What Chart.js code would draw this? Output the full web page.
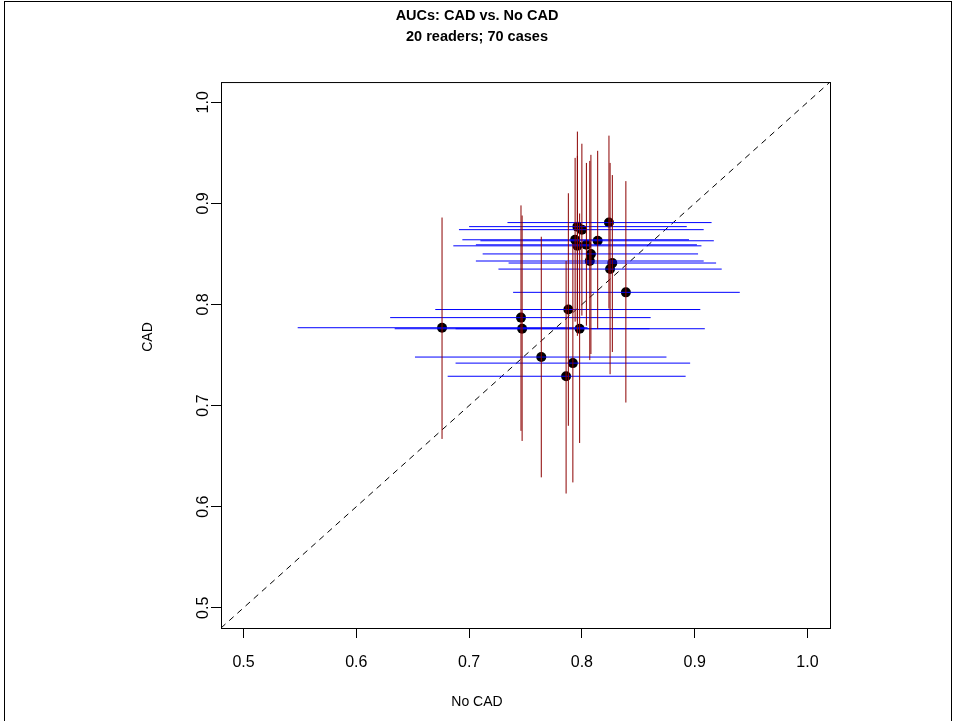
<!DOCTYPE html>
<html>
<head>
<meta charset="utf-8">
<title>AUCs: CAD vs. No CAD</title>
<script src="https://cdn.jsdelivr.net/npm/chart.js@4/dist/chart.umd.min.js"></script>
<style>
  html, body { margin: 0; padding: 0; background: #fff; }
  #wrap { width: 954px; height: 721px; }
</style>
</head>
<body>
<div id="wrap"><canvas id="aucChart" width="954" height="721"></canvas></div>
<script>
// AUC per reader, without CAD (x) and with CAD (y)
const aucNoCad = [0.824, 0.796, 0.800, 0.794, 0.814, 0.804, 0.796, 0.808, 0.807, 0.827,
                  0.825, 0.839, 0.788, 0.746, 0.676, 0.747, 0.798, 0.764, 0.792, 0.786];
const aucCad   = [0.881, 0.877, 0.874, 0.864, 0.863, 0.859, 0.858, 0.850, 0.843, 0.841,
                  0.835, 0.812, 0.795, 0.787, 0.777, 0.776, 0.776, 0.748, 0.742, 0.729];

// confidence intervals
const noCadLo = [0.734, 0.700, 0.691, 0.694, 0.710, 0.706, 0.686, 0.712, 0.706, 0.735,
                 0.726, 0.739, 0.670, 0.630, 0.548, 0.634, 0.688, 0.652, 0.688, 0.681];
const noCadHi = [0.915, 0.893, 0.908, 0.895, 0.917, 0.902, 0.906, 0.903, 0.908, 0.919,
                 0.924, 0.940, 0.905, 0.861, 0.805, 0.860, 0.909, 0.875, 0.896, 0.892];
const cadLo   = [0.796, 0.784, 0.789, 0.783, 0.776, 0.779, 0.769, 0.751, 0.745, 0.753,
                 0.731, 0.703, 0.680, 0.675, 0.667, 0.665, 0.663, 0.629, 0.624, 0.613];
const cadHi   = [0.967, 0.971, 0.959, 0.945, 0.952, 0.940, 0.947, 0.948, 0.942, 0.928,
                 0.940, 0.922, 0.910, 0.898, 0.886, 0.888, 0.890, 0.867, 0.860, 0.843];

// axis range and ticks
const axisMin = 0.48;
const axisMax = 1.02;
const tickLabels = ["0.5", "0.6", "0.7", "0.8", "0.9", "1.0"];
const tickVals = tickLabels.map(Number);

// build segment lists (null = break between segments)
const hSegs = [];
const vSegs = [];
aucNoCad.forEach((x, i) => {
  hSegs.push({ x: noCadLo[i], y: aucCad[i] }, { x: noCadHi[i], y: aucCad[i] }, { x: x, y: null });
  vSegs.push({ x: x, y: cadLo[i] }, { x: x, y: cadHi[i] }, { x: x, y: null });
});
const points = aucNoCad.map((x, i) => ({ x: x, y: aucCad[i] }));

const FONT = "'Liberation Sans', Arial, Helvetica, sans-serif";
Chart.defaults.color = "#000";
Chart.defaults.font.family = FONT;

// page frame, plot box and y label, R style
const frameBox = {
  id: "frameBox",
  beforeDraw(chart) {
    const ctx = chart.ctx;
    ctx.save();
    ctx.fillStyle = "#fff";
    ctx.fillRect(0, 0, chart.width, chart.height);
    ctx.strokeStyle = "#000";
    ctx.lineWidth = 1;
    ctx.strokeRect(4.5, 1.5, 947, 760);
    ctx.restore();
  },
  afterDraw(chart) {
    const { ctx, chartArea: a } = chart;
    ctx.save();
    ctx.strokeStyle = "#000";
    ctx.lineWidth = 1;
    ctx.strokeRect(a.left + 0.5, a.top + 0.5, a.right - a.left, a.bottom - a.top);
    // y axis label sits a bit above the plot middle in the original
    ctx.translate(148, 337);
    ctx.rotate(-Math.PI / 2);
    ctx.font = "14px " + FONT;
    ctx.fillStyle = "#000";
    ctx.textAlign = "center";
    ctx.textBaseline = "middle";
    ctx.fillText("CAD", 0, 0);
    ctx.restore();
  }
};

function tickCfg() {
  return {
    grid: { display: true, drawOnChartArea: false, drawTicks: true, tickLength: 10, color: "#000", lineWidth: 1 },
    border: { display: false }
  };
}

new Chart(document.getElementById("aucChart"), {
  type: "scatter",
  data: {
    datasets: [
      {
        label: "CAD CI",
        data: vSegs,
        showLine: true,
        spanGaps: false,
        borderColor: "#8b0000",
        borderWidth: 1,
        pointRadius: 0,
        order: 0
      },
      {
        label: "No CAD CI",
        data: hSegs,
        showLine: true,
        spanGaps: false,
        borderColor: "#0000ff",
        borderWidth: 1,
        pointRadius: 0,
        order: 1
      },
      {
        label: "Readers",
        data: points,
        pointRadius: 5,
        pointBackgroundColor: "#000",
        pointBorderWidth: 0,
        order: 2
      },
      {
        label: "y = x",
        data: [{ x: axisMin, y: axisMin }, { x: axisMax, y: axisMax }],
        showLine: true,
        borderColor: "#000",
        borderWidth: 1,
        borderDash: [6, 5],
        pointRadius: 0,
        order: 3
      }
    ]
  },
  options: {
    responsive: false,
    animation: false,
    devicePixelRatio: 1,
    layout: { padding: 0 },
    plugins: {
      legend: { display: false },
      tooltip: { enabled: false },
      title: {
        display: true,
        text: ["AUCs: CAD vs. No CAD", "20 readers; 70 cases"],
        font: { size: 14.5, weight: "bold", lineHeight: 1.45 },
        padding: { top: 5, bottom: 35 }
      },
      subtitle: {
        display: true,
        position: "bottom",
        text: "No CAD",
        font: { size: 14, weight: "normal", lineHeight: 1.2 },
        padding: { top: 0, bottom: 10.6 }
      }
    },
    scales: {
      x: Object.assign(tickCfg(), {
        type: "linear",
        min: axisMin,
        max: axisMax,
        afterBuildTicks: s => { s.ticks = tickVals.map(v => ({ value: v })); },
        afterFit: s => { s.height = 65.6; },
        ticks: {
          font: { size: 16 },
          padding: 15,
          callback: (v, i) => tickLabels[i]
        }
      }),
      y: Object.assign(tickCfg(), {
        type: "linear",
        min: axisMin,
        max: axisMax,
        afterBuildTicks: s => { s.ticks = tickVals.map(v => ({ value: v })); },
        afterFit: s => { s.width = 221; },
        ticks: {
          font: { size: 16 },
          minRotation: 90,
          maxRotation: 90,
          crossAlign: "center",
          padding: -4,
          callback: (v, i) => tickLabels[i]
        }
      }),
      // empty right margin so the titles centre on the whole page
      yRight: {
        type: "linear",
        position: "right",
        min: axisMin,
        max: axisMax,
        grid: { display: false },
        border: { display: false },
        ticks: { display: false },
        afterFit: s => { s.width = 124; }
      }
    }
  },
  plugins: [frameBox]
});
</script>
</body>
</html>
